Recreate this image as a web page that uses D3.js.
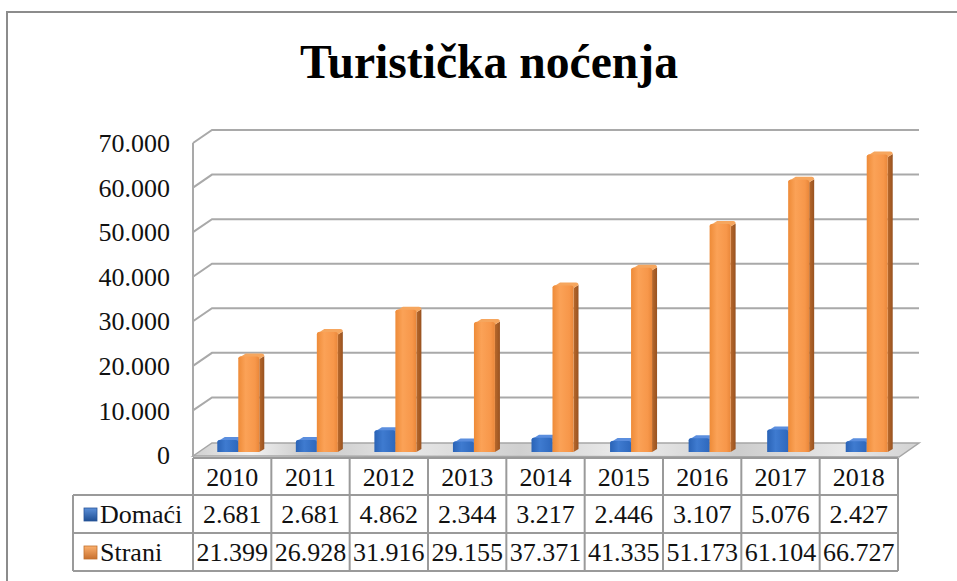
<!DOCTYPE html>
<html><head><meta charset="utf-8">
<script src="https://cdn.jsdelivr.net/npm/d3@7"></script>
<style>html,body{margin:0;padding:0;background:#fff;}svg{display:block;}</style>
</head><body>
<script>
const years = ["2010","2011","2012","2013","2014","2015","2016","2017","2018"];
const domaci = [2681, 2681, 4862, 2344, 3217, 2446, 3107, 5076, 2427];
const strani = [21399, 26928, 31916, 29155, 37371, 41335, 51173, 61104, 66727];
const yTicks = [0, 10000, 20000, 30000, 40000, 50000, 60000, 70000];
const seriesNames = ["Domaći", "Strani"];
const fmt = v => d3.format(",")(v).replace(/,/g, ".");

const W = 957, H = 581;
const svg = d3.select("body").append("svg").attr("width", W).attr("height", H);
const defs = svg.append("defs");
const FONT = "'Liberation Serif','Times New Roman',serif";

// geometry
const plotL = 193, plotR = 898, depthX = 19, depthY = 13;
const yGrid = d3.scaleLinear().domain([0, 70000]).range([455, 143]);
const yBar = d3.scaleLinear().domain([0, 70000]).range([452, 140]);
const xCol = d3.scaleBand().domain(years).range([plotL, plotR]);
const xBar = d3.scaleBand().domain(years).range([199, 906]);
const barW = 21, sideX = 5, sideY = 3;

// gradients
function lin(id, stops, x2 = "100%", y2 = "0%") {
  const g = defs.append("linearGradient").attr("id", id)
    .attr("x1", "0%").attr("y1", "0%").attr("x2", x2).attr("y2", y2);
  stops.forEach(s => g.append("stop").attr("offset", s[0]).attr("stop-color", s[1]));
}
lin("oFront", [["0%", "#ee8b38"], ["35%", "#fba257"], ["80%", "#f7974a"], ["100%", "#e9873a"]]);
lin("oSide", [["0%", "#b8692c"], ["100%", "#985220"]]);
lin("bFront", [["0%", "#2a63b6"], ["40%", "#3f7bd0"], ["100%", "#2e68bd"]]);
lin("bSide", [["0%", "#214f94"], ["100%", "#1b427d"]]);
lin("floorG", [["0%", "#cfcfcf"], ["8%", "#f2f2f2"], ["16%", "#c9c9c9"], ["30%", "#e6e6e6"], ["45%", "#d0d0d0"], ["60%", "#ececec"], ["75%", "#cdcdcd"], ["90%", "#e8e8e8"], ["100%", "#d2d2d2"]]);
lin("legB", [["0%", "#5b8fd8"], ["100%", "#1f4f94"]], "0%", "100%");
lin("legO", [["0%", "#fbb06e"], ["100%", "#c8702e"]], "0%", "100%");

// outer frame
svg.append("path").attr("d", `M7,${H} L7,12 L${W},12`)
  .attr("fill", "none").attr("stroke", "#8c8c8c").attr("stroke-width", 2);

// title
svg.append("text").attr("x", 489).attr("y", 78).attr("text-anchor", "middle")
  .attr("font-family", FONT).attr("font-weight", "bold").attr("font-size", 48)
  .attr("textLength", 378).attr("lengthAdjust", "spacingAndGlyphs")
  .text("Turistička noćenja");

// floor
const f0 = yGrid(0);
svg.append("path")
  .attr("d", `M${plotL},${f0 + 1} L${plotL + depthX},${f0 - depthY + 1} L${plotR + depthX + 2},${f0 - depthY + 1} L${plotR + 1},${f0 + 2} Z`)
  .attr("fill", "url(#floorG)").attr("stroke", "#a6a6a6").attr("stroke-width", 1.5);

// gridlines
const grid = svg.append("g");
yTicks.forEach(t => {
  const y = yGrid(t);
  if (t === 0) return;
  grid.append("path")
    .attr("d", `M${plotL},${y} L${plotL + depthX},${y - depthY} L${plotR + depthX + 2},${y - depthY}`)
    .attr("fill", "none").attr("stroke", "#a9a9a9").attr("stroke-width", 2);
});
grid.append("line").attr("x1", plotL).attr("x2", plotL)
  .attr("y1", yGrid(70000)).attr("y2", yGrid(0) + 2)
  .attr("stroke", "#a9a9a9").attr("stroke-width", 2);

// y labels
svg.append("g").selectAll("text").data(yTicks).join("text")
  .attr("x", 170).attr("y", d => yGrid(d)).attr("dy", "0.35em")
  .attr("text-anchor", "end").attr("font-family", FONT).attr("font-size", 26)
  .attr("fill", "#111").text(d => fmt(d));

// bars
function bar3d(g, x0, v, front, side, top) {
  const yb = yBar(0), yt = yBar(v), x1 = x0 + barW, r = 2.5;
  g.append("path")
    .attr("d", `M${x1},${yt + r} L${x1 + sideX},${yt - sideY + r} L${x1 + sideX},${yb - sideY} L${x1},${yb} Z`)
    .attr("fill", side);
  g.append("path")
    .attr("d", `M${x0},${yt + r} Q${x0},${yt} ${x0 + r + 1},${yt - 0.5} L${x0 + sideX + r},${yt - sideY} L${x1 + sideX - r},${yt - sideY} Q${x1 + sideX},${yt - sideY} ${x1 + sideX},${yt - sideY + r} L${x1},${yt + r} Z`)
    .attr("fill", top);
  g.append("path")
    .attr("d", `M${x0},${yb} L${x0},${yt + r} Q${x0},${yt} ${x0 + r},${yt} L${x1 - r},${yt} Q${x1},${yt} ${x1},${yt + r} L${x1},${yb} Z`)
    .attr("fill", front);
}
const bars = svg.append("g");
years.forEach((yr, i) => {
  const c = xBar(yr) + xBar.bandwidth() / 2;
  bar3d(bars, c - barW, domaci[i], "url(#bFront)", "url(#bSide)", "#5b8ede");
  bar3d(bars, c, strani[i], "url(#oFront)", "url(#oSide)", "#f6a65e");
});

// data table
const rowY = [458, 495, 533, 571];
const tblL = 73;
const tbl = svg.append("g").attr("stroke", "#9a9a9a").attr("stroke-width", 2).attr("fill", "none");
tbl.append("line").attr("x1", plotL).attr("x2", plotR).attr("y1", rowY[0]).attr("y2", rowY[0]);
rowY.slice(1).forEach(y => tbl.append("line").attr("x1", tblL).attr("x2", plotR).attr("y1", y).attr("y2", y));
tbl.append("line").attr("x1", tblL).attr("x2", tblL).attr("y1", rowY[1]).attr("y2", rowY[3]);
years.concat(["end"]).forEach((yr, i) => {
  const x = plotL + i * xCol.bandwidth();
  tbl.append("line").attr("x1", x).attr("x2", x).attr("y1", rowY[0]).attr("y2", rowY[3]);
});

const txt = svg.append("g").attr("font-family", FONT).attr("font-size", 26).attr("fill", "#111");
const rowsData = [years, domaci.map(fmt), strani.map(fmt)];
rowsData.forEach((row, r) => {
  const yc = (rowY[r] + rowY[r + 1]) / 2;
  row.forEach((t, i) => {
    txt.append("text").attr("x", xCol(years[i]) + xCol.bandwidth() / 2).attr("y", yc)
      .attr("dy", "0.36em").attr("text-anchor", "middle").text(t);
  });
});
// series labels with legend keys
seriesNames.forEach((n, k) => {
  const yc = (rowY[k + 1] + rowY[k + 2]) / 2;
  svg.append("rect").attr("x", 84).attr("y", yc - 6).attr("width", 13).attr("height", 13)
    .attr("fill", k === 0 ? "url(#legB)" : "url(#legO)")
    .attr("stroke", k === 0 ? "#2a5599" : "#c0702e").attr("stroke-width", 0.8);
  txt.append("text").attr("x", 100).attr("y", yc).attr("dy", "0.36em").text(n);
});
</script>
</body></html>
